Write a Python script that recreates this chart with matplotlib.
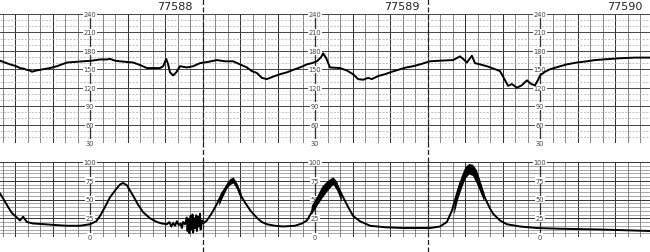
import numpy as np
import matplotlib
matplotlib.use("Agg")
import matplotlib.pyplot as plt
from matplotlib import transforms

# ---------------- data (time in seconds from left edge of strip) -------------
fhr_t = [0, 16, 26, 32, 38, 43, 48, 51, 58, 69, 80, 91, 99, 107, 120, 133, 147,
         160, 171, 176, 184, 192, 213, 224, 235, 248, 256, 261, 266, 269, 272,
         277, 282, 288, 299, 309, 320, 333, 347, 360, 373, 384, 395, 403, 411,
         419, 427, 437, 448, 459, 469, 480, 491, 499, 507, 514, 517, 522, 528,
         544, 555, 565, 573, 581, 589, 595, 605, 616, 627, 640, 650, 661, 672,
         688, 704, 725, 736, 742, 747, 752, 755, 760, 768, 779, 790, 800, 806,
         813, 819, 827, 835, 843, 850, 856, 861, 864, 872, 880, 893, 907, 923,
         939, 952, 965, 992, 1016, 1040]
fhr_bpm = [164, 158, 155, 152, 151, 149, 148, 146, 148, 150, 152, 155, 158, 161,
           162, 163, 164, 166, 166, 167, 164, 163, 161, 157, 152, 152, 152, 155,
           167, 158, 145, 140, 145, 155, 153, 155, 160, 162, 165, 163, 163, 158,
           153, 147, 144, 136, 134, 138, 142, 145, 149, 153, 158, 160, 163, 170,
           176, 168, 153, 152, 148, 142, 134, 133, 136, 134, 139, 142, 146, 150,
           153, 155, 158, 163, 164, 165, 171, 166, 161, 168, 172, 160, 158, 155,
           151, 147, 136, 123, 126, 120, 124, 132, 126, 124, 133, 140, 146, 150,
           154, 158, 161, 163, 165, 166, 168, 169, 169]

uc_t = [0, 6, 13, 19, 27, 32, 37, 43, 53, 72, 88, 107, 128, 144, 154, 160, 168,
        176, 186, 192, 197, 203, 213, 221, 229, 240, 251, 259, 267, 271, 274,
        277, 280, 283, 286, 289, 291, 293, 296, 299, 300, 302, 303, 305, 306,
        308, 309, 311, 312, 314, 315, 317, 318, 320, 321, 323, 325, 328, 331,
        339, 347, 355, 363, 368, 373, 379, 384, 392, 400, 405, 413, 419, 427,
        440, 453, 472, 483, 491, 498, 502, 507, 515, 522, 528, 533, 539, 549,
        557, 565, 576, 592, 616, 645, 672, 688, 704, 715, 723, 730, 736, 744,
        749, 752, 758, 763, 768, 776, 784, 789, 800, 811, 832, 859, 896, 960,
        1040]
uc_val = [58, 50, 40, 32, 26, 22, 27, 20, 18, 17, 16, 15, 15, 17, 21, 28, 40,
          53, 64, 70, 72, 69, 55, 43, 33, 25, 20, 18, 17, 20, 14, 19, 15, 21,
          16, 18, 12, 20, 17, 26, 8, 24, 5, 28, 10, 30, 6, 25, 12, 29, 8, 27,
          14, 31, 10, 22, 18, 20, 22, 32, 44, 58, 68, 73, 76, 68, 57, 46, 36,
          31, 24, 20, 17, 15, 14, 15, 18, 22, 32, 42, 48, 60, 66, 73, 77, 70,
          53, 40, 28, 21, 15, 13, 12, 12, 12, 14, 20, 35, 55, 71, 85, 92, 93,
          90, 82, 71, 52, 38, 31, 22, 17, 14, 12, 11, 10, 8]

# noisy (thick) parts of the contraction trace: lower / upper envelopes
band2_t = [350, 357, 363, 368, 373, 379, 386]
band2_lo = [42, 55, 65, 70, 72, 64, 50]
band2_hi = [50, 63, 73, 78, 80, 72, 58]
band3_t = [498, 507, 515, 522, 528, 533, 539, 546]
band3_lo = [30, 42, 52, 60, 66, 70, 62, 47]
band3_hi = [42, 55, 68, 74, 78, 80, 74, 55]
band4_t = [726, 732, 738, 744, 750, 756, 762, 768, 774]
band4_lo = [30, 50, 65, 78, 84, 82, 72, 60, 48]
band4_hi = [42, 65, 82, 94, 98, 97, 90, 76, 58]

strip_labels = ["77588", "77589", "77590"]
strip_label_t = [280, 643, 1000]
page_break_t = [324, 684]
scale_t = [144, 504, 864]
fhr_ticks = [240, 210, 180, 150, 120, 90, 60, 30]
uc_ticks = [100, 75, 50, 25, 0]

# ---------------- figure ----------------
W, H = 650, 253
fig = plt.figure(figsize=(W / 100, H / 100), dpi=100)
fig.patch.set_facecolor("white")

ax1 = fig.add_axes([0, (H - 144) / H, 1, (144 - 15) / H])
ax2 = fig.add_axes([0, (H - 238) / H, 1, (238 - 163) / H])

T0, T1 = 0, 1040
for ax in (ax1, ax2):
    ax.set_xlim(T0, T1)
    ax.set_xticks([]); ax.set_yticks([])
    for s in ax.spines.values():
        s.set_visible(False)
    for xv in np.arange(4, T1, 20):
        heavy = ((xv - 144) % 60) == 0
        ax.axvline(xv, color="#333333" if heavy else "#666666",
                   lw=0.75 if heavy else 0.55, zorder=1)

ax1.set_ylim(30, 240)
for yv in range(30, 241, 10):
    if yv % 30 == 0:
        ax1.axhline(yv, color="#444444", lw=0.7, zorder=1)
    else:
        ax1.axhline(yv, color="#aaaaaa", lw=0.5, ls=(0, (3, 2)), zorder=1)

ax2.set_ylim(0, 100)
for yv in range(0, 101, 5):
    if yv % 25 == 0:
        ax2.axhline(yv, color="#333333", lw=0.7, zorder=1)
    else:
        ax2.axhline(yv, color="#777777", lw=0.45, zorder=1)

# scale columns
for st in scale_t:
    for ax, ticks in ((ax1, fhr_ticks), (ax2, uc_ticks)):
        ax.axvline(st, color="#333333", lw=0.9, zorder=1)
        for tv in ticks:
            ax.text(st, tv, str(tv), fontsize=4.8, ha="center", va="center",
                    color="#444444", zorder=3, clip_on=False,
                    bbox=dict(boxstyle="square,pad=0.1", fc="white", ec="none"))

# traces
ax1.plot(fhr_t, fhr_bpm, color="black", lw=1.4, zorder=4, solid_joinstyle="round")
ax2.plot(uc_t, uc_val, color="black", lw=1.4, zorder=4, solid_joinstyle="round")
for bt, blo, bhi in ((band2_t, band2_lo, band2_hi),
                     (band3_t, band3_lo, band3_hi),
                     (band4_t, band4_lo, band4_hi)):
    ax2.fill_between(bt, blo, bhi, color="black", lw=0, zorder=4)

# page break dashed lines spanning the whole strip
trans = transforms.blended_transform_factory(ax1.transData, fig.transFigure)
for pb in page_break_t:
    fig.add_artist(plt.Line2D([pb, pb], [0, 1], transform=trans, color="#222222",
                              lw=0.9, ls=(0, (4, 2))))

# strip numbers at top
for lab, lt in zip(strip_labels, strip_label_t):
    ax1.text(lt, 1 - 7 / H, lab, transform=trans, fontsize=8, ha="center",
             va="center", color="#222222", clip_on=False)

fig.savefig("out.png", dpi=100, facecolor="white")
